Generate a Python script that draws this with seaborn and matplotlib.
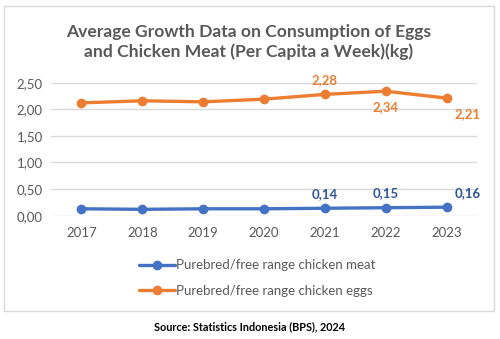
import matplotlib
matplotlib.use("Agg")
import matplotlib.pyplot as plt
import seaborn as sns
import pandas as pd
from matplotlib.patches import Rectangle
from matplotlib.lines import Line2D

years = ["2017", "2018", "2019", "2020", "2021", "2022", "2023"]
meat = [0.13, 0.12, 0.13, 0.13, 0.14, 0.15, 0.16]
eggs = [2.12, 2.16, 2.14, 2.19, 2.28, 2.34, 2.21]
meat_label = "Purebred/free range chicken meat"
eggs_label = "Purebred/free range chicken eggs"
yticks = [0.0, 0.5, 1.0, 1.5, 2.0, 2.5]

sns.set_theme(style="white")
plt.rcParams['font.family'] = ['Lato', 'DejaVu Sans']

BLUE = "#4472C4"
ORANGE = "#ED7D31"
GRAY = "#595959"

df = pd.DataFrame({
    "year": years * 2,
    "value": meat + eggs,
    "series": [meat_label] * len(years) + [eggs_label] * len(years),
})

fig = plt.figure(figsize=(5, 3.39), dpi=100)
ax = fig.add_axes([0.102, 0.3637, 0.852, 0.3924])

sns.lineplot(data=df, x="year", y="value", hue="series",
             palette={meat_label: BLUE, eggs_label: ORANGE},
             marker="o", markersize=7, markeredgewidth=0, linewidth=2.4,
             ax=ax, legend=False, sort=False)

ax.set_ylim(0, 2.5)
ax.set_xlim(-0.5, len(years) - 0.5)
ax.set_yticks(yticks)
ax.set_yticklabels([f"{v:.2f}".replace(".", ",") for v in yticks], color=GRAY, fontsize=9.5)
ax.tick_params(axis="x", colors=GRAY, labelsize=9.5, length=0, pad=8)
ax.tick_params(axis="y", length=0, pad=6)
ax.set_xlabel("")
ax.set_ylabel("")
ax.grid(axis="y", color="#D9D9D9", linewidth=1)
ax.set_axisbelow(True)
for s in ax.spines.values():
    s.set_visible(False)

def fmt(v):
    return f"{v:.2f}".replace(".", ",")

ax.annotate(fmt(eggs[4]), (4, eggs[4]), xytext=(0, 6), textcoords="offset points",
            ha="center", va="bottom", color=ORANGE, fontsize=9.5, fontweight="bold")
ax.annotate(fmt(eggs[5]), (5, eggs[5]), xytext=(0, -7), textcoords="offset points",
            ha="center", va="top", color=ORANGE, fontsize=9.5, fontweight="bold")
ax.annotate(fmt(eggs[6]), (6, eggs[6]), xytext=(6, -7), textcoords="offset points",
            ha="left", va="top", color=ORANGE, fontsize=9.5, fontweight="bold")
for i in (4, 5):
    ax.annotate(fmt(meat[i]), (i, meat[i]), xytext=(0, 6), textcoords="offset points",
                ha="center", va="bottom", color="#2F5597", fontsize=9.5, fontweight="bold")
ax.annotate(fmt(meat[6]), (6, meat[6]), xytext=(6, 6), textcoords="offset points",
            ha="left", va="bottom", color="#2F5597", fontsize=9.5, fontweight="bold")

fig.text(0.497, 1 - 42 / 339, "Average Growth Data on Consumption of Eggs\nand Chicken Meat (Per Capita a Week)(kg)",
         ha="center", va="center", color=GRAY, fontsize=12.6, fontweight="bold", linespacing=1.3)

handles = [Line2D([], [], color=BLUE, marker="o", markersize=7, linewidth=2.4, markeredgewidth=0),
           Line2D([], [], color=ORANGE, marker="o", markersize=7, linewidth=2.4, markeredgewidth=0)]
fig.legend(handles, [meat_label, eggs_label], loc="center", bbox_to_anchor=(0.515, 1 - 278 / 339),
           frameon=False, fontsize=9.5, labelcolor=GRAY, handlelength=2.7, handletextpad=0.1,
           labelspacing=1.0)

fig.patches.append(Rectangle((3.5 / 500, 1 - 311 / 339), (494 - 3.5) / 500, (311 - 6) / 339,
                             transform=fig.transFigure, fill=False, edgecolor="#D9D9D9", linewidth=1))

fig.text(0.5, 1 - 327 / 339, "Source: Statistics Indonesia (BPS), 2024", ha="center", va="center",
         color="black", fontsize=7.8, fontweight="bold")

fig.savefig("out.png", dpi=100, facecolor="white")
